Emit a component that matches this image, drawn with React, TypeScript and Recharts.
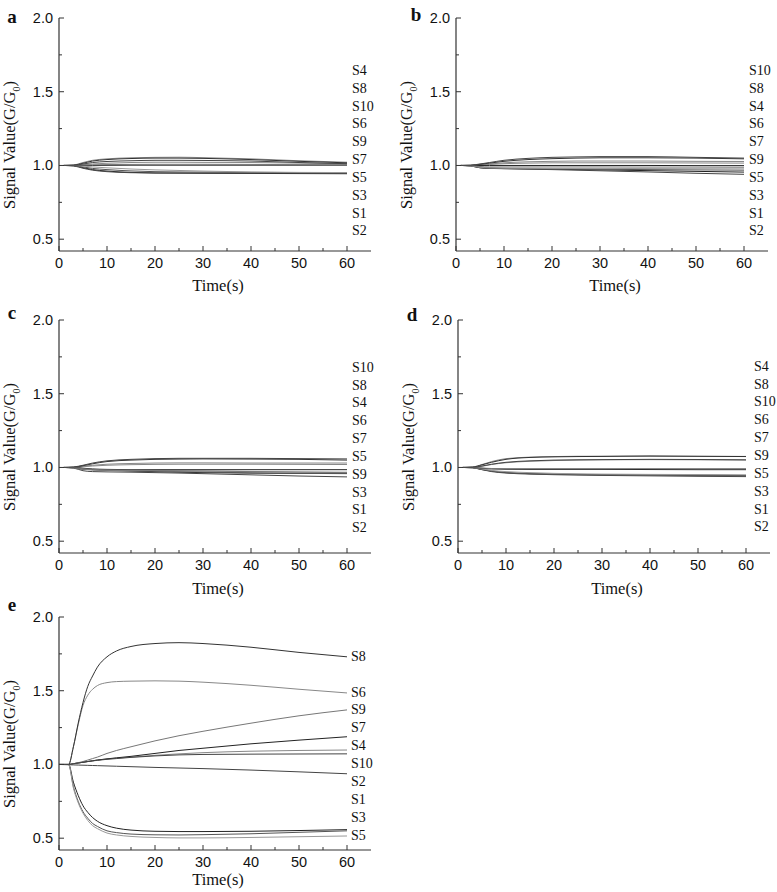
import React from "react";
import { LineChart, Line, XAxis, YAxis, ReferenceDot } from "recharts";

const seriesNames = ["S1", "S2", "S3", "S4", "S5", "S6", "S7", "S8", "S9", "S10"];
const lineColors = ["#222", "#444", "#555", "#888", "#999", "#888", "#222", "#333", "#777", "#444"];

const timesAD = [1, 3, 5, 7, 10, 15, 20, 25, 30, 40, 50, 60];
const timesE = [0, 2, 3, 4, 5, 6, 7, 8, 10, 12, 15, 20, 25, 30, 40, 50, 60];

// one row per sensor, S1..S10
const seriesA = [
  [1.0, 0.998, 0.985, 0.972, 0.962, 0.953, 0.949, 0.948, 0.947, 0.946, 0.945, 0.944],
  [1.0, 0.997, 0.981, 0.968, 0.958, 0.951, 0.949, 0.949, 0.949, 0.948, 0.948, 0.947],
  [1.0, 0.999, 0.99, 0.98, 0.972, 0.963, 0.958, 0.956, 0.955, 0.953, 0.952, 0.951],
  [1.0, 1.003, 1.02, 1.035, 1.045, 1.052, 1.055, 1.056, 1.053, 1.045, 1.032, 1.022],
  [1.0, 1.0, 0.996, 0.99, 0.984, 0.976, 0.97, 0.966, 0.962, 0.956, 0.953, 0.952],
  [1.0, 1.0, 1.005, 1.01, 1.015, 1.02, 1.022, 1.022, 1.021, 1.02, 1.016, 1.012],
  [1.0, 1.0, 1.0, 1.0, 1.001, 1.002, 1.002, 1.002, 1.002, 1.002, 1.002, 1.002],
  [1.0, 1.002, 1.015, 1.03, 1.04, 1.047, 1.05, 1.05, 1.048, 1.04, 1.028, 1.018],
  [1.0, 1.0, 1.002, 1.004, 1.006, 1.007, 1.008, 1.008, 1.008, 1.007, 1.006, 1.005],
  [1.0, 1.001, 1.01, 1.02, 1.027, 1.032, 1.035, 1.035, 1.034, 1.03, 1.02, 1.012],
];

const seriesB = [
  [1.0, 0.997, 0.985, 0.981, 0.979, 0.977, 0.975, 0.972, 0.97, 0.965, 0.96, 0.955],
  [1.0, 0.997, 0.984, 0.98, 0.978, 0.975, 0.972, 0.968, 0.964, 0.956, 0.947, 0.94],
  [1.0, 0.998, 0.986, 0.982, 0.98, 0.978, 0.976, 0.975, 0.974, 0.972, 0.97, 0.968],
  [1.0, 1.0, 1.005, 1.01, 1.018, 1.025, 1.028, 1.03, 1.03, 1.03, 1.028, 1.027],
  [1.0, 0.998, 0.988, 0.984, 0.982, 0.981, 0.98, 0.98, 0.98, 0.979, 0.978, 0.977],
  [1.0, 1.0, 1.003, 1.007, 1.012, 1.016, 1.018, 1.018, 1.018, 1.018, 1.017, 1.016],
  [1.0, 1.0, 1.0, 1.0, 1.0, 1.0, 1.0, 1.0, 1.0, 1.0, 0.999, 0.999],
  [1.0, 1.001, 1.008, 1.016, 1.028, 1.04, 1.046, 1.05, 1.052, 1.052, 1.05, 1.045],
  [1.0, 0.999, 0.993, 0.99, 0.99, 0.99, 0.99, 0.99, 0.99, 0.989, 0.989, 0.988],
  [1.0, 1.002, 1.01, 1.02, 1.035, 1.048, 1.055, 1.058, 1.06, 1.06, 1.055, 1.05],
];

const seriesC = [
  [1.0, 0.998, 0.988, 0.984, 0.98, 0.976, 0.972, 0.968, 0.965, 0.962, 0.96, 0.96],
  [1.0, 0.996, 0.978, 0.972, 0.97, 0.968, 0.965, 0.962, 0.958, 0.95, 0.942, 0.936],
  [1.0, 0.998, 0.99, 0.985, 0.982, 0.978, 0.975, 0.972, 0.969, 0.963, 0.96, 0.958],
  [1.0, 1.001, 1.008, 1.015, 1.022, 1.027, 1.03, 1.031, 1.031, 1.03, 1.03, 1.03],
  [1.0, 0.999, 0.99, 0.985, 0.982, 0.98, 0.978, 0.977, 0.976, 0.973, 0.97, 0.968],
  [1.0, 1.0, 1.005, 1.01, 1.015, 1.019, 1.021, 1.022, 1.022, 1.022, 1.021, 1.02],
  [1.0, 1.0, 0.995, 0.99, 0.987, 0.985, 0.985, 0.985, 0.985, 0.985, 0.985, 0.985],
  [1.0, 1.002, 1.012, 1.025, 1.04, 1.05, 1.055, 1.057, 1.058, 1.057, 1.055, 1.05],
  [1.0, 0.999, 0.992, 0.987, 0.984, 0.982, 0.98, 0.978, 0.976, 0.972, 0.968, 0.965],
  [1.0, 1.003, 1.015, 1.03, 1.045, 1.055, 1.06, 1.062, 1.062, 1.062, 1.06, 1.058],
];

const seriesD = [
  [1.0, 0.998, 0.986, 0.975, 0.965, 0.958, 0.955, 0.953, 0.951, 0.95, 0.948, 0.946],
  [1.0, 0.998, 0.985, 0.972, 0.962, 0.955, 0.951, 0.948, 0.946, 0.943, 0.94, 0.938],
  [1.0, 0.999, 0.988, 0.976, 0.966, 0.958, 0.954, 0.952, 0.95, 0.948, 0.945, 0.943],
  [1.0, 1.003, 1.02, 1.04, 1.06, 1.07, 1.074, 1.076, 1.076, 1.076, 1.075, 1.075],
  [1.0, 0.999, 0.99, 0.98, 0.972, 0.965, 0.96, 0.957, 0.955, 0.953, 0.952, 0.95],
  [1.0, 1.001, 1.008, 1.02, 1.032, 1.042, 1.047, 1.05, 1.052, 1.053, 1.052, 1.05],
  [1.0, 1.0, 0.995, 0.99, 0.988, 0.987, 0.987, 0.987, 0.987, 0.986, 0.985, 0.985],
  [1.0, 1.002, 1.018, 1.035, 1.055, 1.068, 1.072, 1.074, 1.075, 1.078, 1.076, 1.074],
  [1.0, 1.0, 0.996, 0.993, 0.992, 0.992, 0.992, 0.992, 0.992, 0.992, 0.992, 0.992],
  [1.0, 1.001, 1.01, 1.022, 1.035, 1.045, 1.05, 1.052, 1.053, 1.055, 1.054, 1.052],
];

const seriesE = [
  [1.0, 1.0, 0.88, 0.79, 0.72, 0.675, 0.64, 0.615, 0.585, 0.568, 0.555, 0.547, 0.545, 0.545, 0.547, 0.552, 0.558],
  [1.0, 0.998, 0.997, 0.996, 0.995, 0.994, 0.993, 0.992, 0.99, 0.988, 0.985, 0.98, 0.976, 0.972, 0.962, 0.95, 0.937],
  [1.0, 1.0, 0.85, 0.75, 0.68, 0.635, 0.6, 0.58, 0.55, 0.538, 0.528, 0.523, 0.522, 0.524, 0.53, 0.54, 0.55],
  [1.0, 1.0, 1.005, 1.01, 1.015, 1.02, 1.025, 1.03, 1.037, 1.043, 1.05, 1.062, 1.072, 1.08, 1.09, 1.095, 1.098],
  [1.0, 1.0, 0.84, 0.74, 0.67, 0.62, 0.585, 0.565, 0.535, 0.522, 0.512, 0.505, 0.502, 0.502, 0.505, 0.51, 0.515],
  [1.0, 1.0, 1.12, 1.27, 1.4, 1.47, 1.51, 1.535, 1.555, 1.562, 1.565, 1.567, 1.565, 1.558, 1.537, 1.51, 1.485],
  [1.0, 1.0, 1.005, 1.01, 1.015, 1.02, 1.025, 1.03, 1.038, 1.045, 1.055, 1.075, 1.095, 1.11, 1.14, 1.165, 1.188],
  [1.0, 1.0, 1.12, 1.28, 1.42, 1.53, 1.6, 1.66, 1.73, 1.77, 1.8, 1.82, 1.826, 1.82, 1.795, 1.76, 1.73],
  [1.0, 1.0, 1.005, 1.012, 1.02, 1.03, 1.04, 1.05, 1.075, 1.095, 1.12, 1.16, 1.195, 1.225, 1.28, 1.33, 1.37],
  [1.0, 1.0, 1.005, 1.01, 1.015, 1.02, 1.024, 1.028, 1.035, 1.04, 1.048, 1.058, 1.065, 1.068, 1.07, 1.071, 1.072],
];

const xTicks = [0, 5, 10, 15, 20, 25, 30, 35, 40, 45, 50, 55, 60];
const yTicks = [0.5, 0.75, 1.0, 1.25, 1.5, 1.75, 2.0];

// label column order (top to bottom) next to each panel
const labelsA = ["S4", "S8", "S10", "S6", "S9", "S7", "S5", "S3", "S1", "S2"];
const labelsB = ["S10", "S8", "S4", "S6", "S7", "S9", "S5", "S3", "S1", "S2"];
const labelsC = ["S10", "S8", "S4", "S6", "S7", "S5", "S9", "S3", "S1", "S2"];
const labelsD = ["S4", "S8", "S10", "S6", "S7", "S9", "S5", "S3", "S1", "S2"];
const labelsE = ["S8", "S6", "S9", "S7", "S4", "S10", "S2", "S1", "S3", "S5"];
const labelYE = [1.73, 1.49, 1.37, 1.25, 1.13, 1.005, 0.885, 0.765, 0.64, 0.52];

const SANS = '"Liberation Sans", Arial, sans-serif';
const SERIF = '"Liberation Serif", "Times New Roman", serif';
const AXIS = "#333";

const CHART_W = 378;
const CHART_H = 290;
const PLOT_LEFT = 59;
const PLOT_TOP = 18;

function buildRows(times: number[], series: number[][]) {
  return times.map((t, i) => {
    const row: Record<string, number> = { t };
    seriesNames.forEach((name, k) => {
      row[name] = series[k][i];
    });
    return row;
  });
}

const XTick = (props: any) => {
  const { x, y, payload } = props;
  const v = payload.value as number;
  const major = v % 10 === 0;
  return (
    <g>
      <line x1={x} x2={x} y1={y} y2={y - (major ? 5 : 3)} stroke={AXIS} strokeWidth={1} />
      {major && (
        <text x={x} y={y + 12} textAnchor="middle" dominantBaseline="central" fontFamily={SANS} fontSize={14.5} fill="#111">
          {v}
        </text>
      )}
    </g>
  );
};

const YTick = (props: any) => {
  const { x, y, payload } = props;
  const v = payload.value as number;
  const major = Math.abs(v * 2 - Math.round(v * 2)) < 1e-6;
  return (
    <g>
      <line x1={x} x2={x + (major ? 5 : 3)} y1={y} y2={y} stroke={AXIS} strokeWidth={1} />
      {major && (
        <text x={x - 6} y={y} textAnchor="end" dominantBaseline="central" fontFamily={SANS} fontSize={14.5} fill="#111">
          {v.toFixed(1)}
        </text>
      )}
    </g>
  );
};

const sideLabel = (name: string, offset: number) => (props: any) => {
  const vb = props.viewBox || {};
  const x = (vb.x ?? 0) + (vb.width ?? 0) + offset;
  const y = (vb.y ?? 0) + (vb.height ?? 0) / 2;
  return (
    <text x={x} y={y} textAnchor="start" dominantBaseline="central" fontFamily={SERIF} fontSize={14} fill="#111">
      {name}
    </text>
  );
};

type PanelProps = {
  left: number;
  top: number;
  letter: string;
  letterX: number;
  letterY: number;
  titleY: number;
  times: number[];
  series: number[][];
  labels: string[];
  labelY: number[];
  labelOffset: number;
};

function Panel(p: PanelProps) {
  const rows = buildRows(p.times, p.series);
  return (
    <div style={{ position: "absolute", left: p.left, top: p.top, width: CHART_W, height: CHART_H }}>
      <LineChart
        width={CHART_W}
        height={CHART_H}
        data={rows}
        margin={{ top: PLOT_TOP, right: CHART_W - PLOT_LEFT - 312, bottom: 9, left: 0 }}
      >
        <XAxis
          dataKey="t"
          type="number"
          domain={[0, 65]}
          ticks={xTicks}
          interval={0}
          allowDataOverflow
          height={30}
          tickSize={0}
          tickMargin={0}
          tickLine={false}
          tick={XTick}
          axisLine={{ stroke: AXIS, strokeWidth: 1.2 }}
        />
        <YAxis
          type="number"
          domain={[0.42, 2.0]}
          ticks={yTicks}
          interval={0}
          allowDataOverflow
          width={PLOT_LEFT}
          tickSize={0}
          tickMargin={0}
          tickLine={false}
          tick={YTick}
          axisLine={{ stroke: AXIS, strokeWidth: 1.2 }}
        />
        {seriesNames.map((name, k) => (
          <Line
            key={name}
            type="monotone"
            dataKey={name}
            stroke={lineColors[k]}
            strokeWidth={1}
            dot={false}
            activeDot={false}
            isAnimationActive={false}
          />
        ))}
        {p.labels.map((name, i) => (
          <ReferenceDot
            key={"lab" + name}
            x={60}
            y={p.labelY[i]}
            r={0}
            fill="none"
            stroke="none"
            label={{ content: sideLabel(name, p.labelOffset) }}
          />
        ))}
      </LineChart>
      <div
        style={{
          position: "absolute",
          left: p.letterX,
          top: p.letterY,
          transform: "translate(-50%, -50%)",
          fontFamily: SERIF,
          fontWeight: "bold",
          fontSize: 19,
          color: "#111",
        }}
      >
        {p.letter}
      </div>
      <div
        style={{
          position: "absolute",
          left: 11,
          top: PLOT_TOP + 127,
          transform: "translate(-50%, -50%) rotate(-90deg)",
          whiteSpace: "nowrap",
          fontFamily: SERIF,
          fontSize: 16.5,
          color: "#111",
        }}
      >
        Signal Value(G/G<sub style={{ fontSize: 10 }}>0</sub>)
      </div>
      <div
        style={{
          position: "absolute",
          left: PLOT_LEFT + 159,
          top: p.titleY,
          transform: "translate(-50%, -50%)",
          whiteSpace: "nowrap",
          fontFamily: SERIF,
          fontSize: 16.5,
          lineHeight: "18px",
          color: "#111",
        }}
      >
        Time(s)
      </div>
    </div>
  );
}

const stack = (top: number) => labelsA.map((_, i) => top - i * 0.121);

export default function App() {
  return (
    <div style={{ position: "absolute", left: 0, top: 0, width: 777, height: 892, overflow: "hidden", background: "#fff" }}>
      <Panel left={0} top={0} letter="a" letterX={12} letterY={17} titleY={286} times={timesAD} series={seriesA} labels={labelsA} labelY={stack(1.645)} labelOffset={5} />
      <Panel left={397} top={0} letter="b" letterX={19} letterY={15} titleY={286} times={timesAD} series={seriesB} labels={labelsB} labelY={stack(1.645)} labelOffset={5} />
      <Panel left={0} top={302} letter="c" letterX={12} letterY={11} titleY={287} times={timesAD} series={seriesC} labels={labelsC} labelY={stack(1.68)} labelOffset={5} />
      <Panel left={399} top={302} letter="d" letterX={13} letterY={13} titleY={287} times={timesAD} series={seriesD} labels={labelsD} labelY={stack(1.686)} labelOffset={8} />
      <Panel left={0} top={599} letter="e" letterX={12} letterY={6} titleY={281} times={timesE} series={seriesE} labels={labelsE} labelY={labelYE} labelOffset={4} />
    </div>
  );
}
